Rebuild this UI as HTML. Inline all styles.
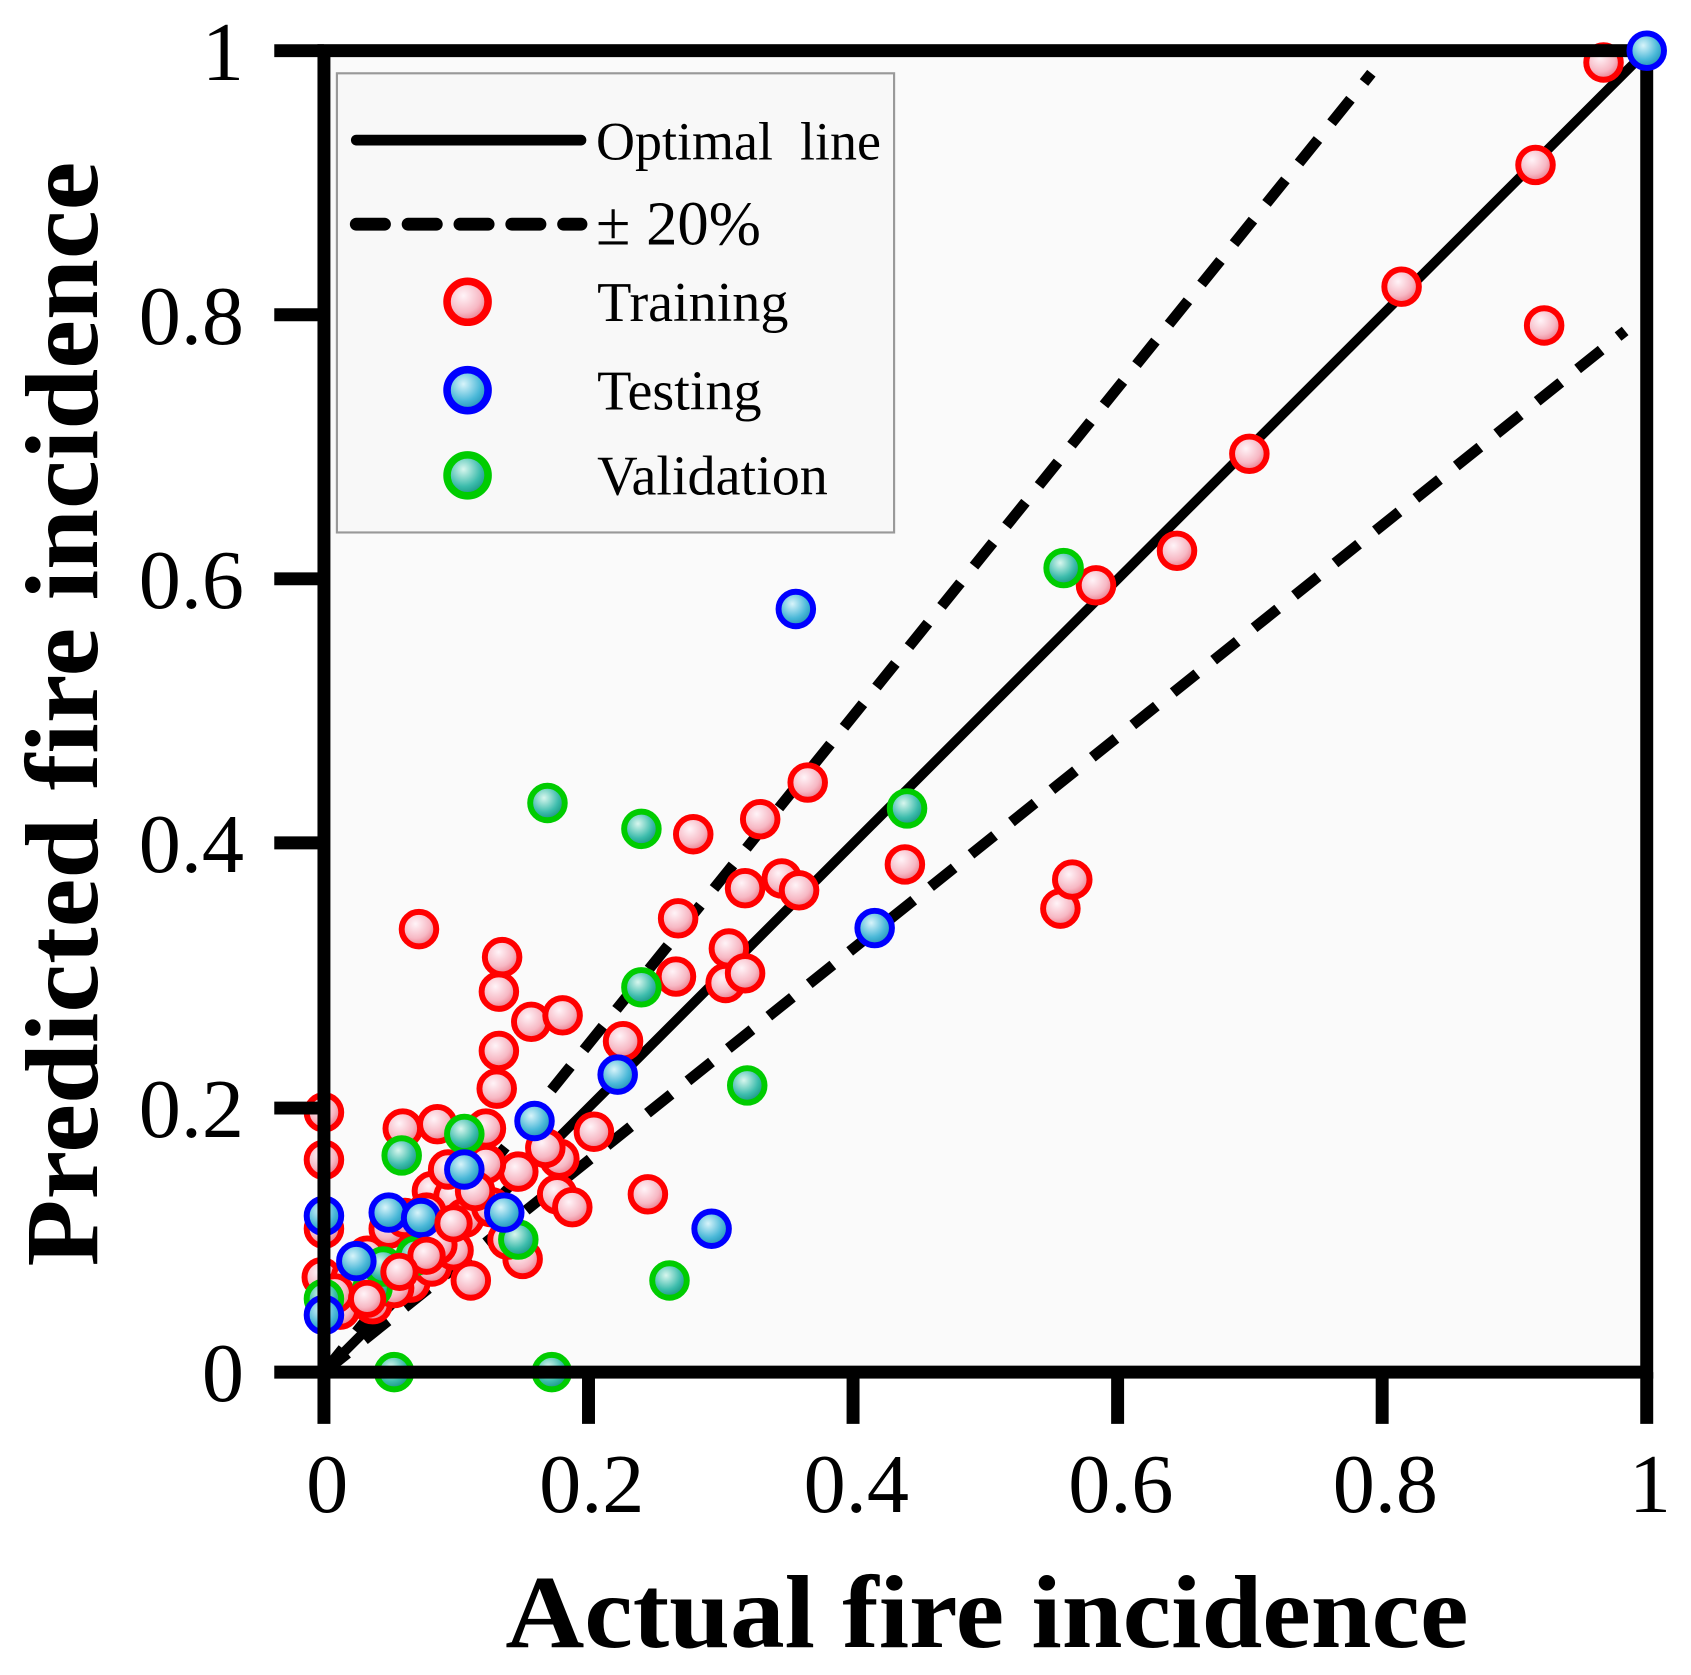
<!DOCTYPE html>
<html><head><meta charset="utf-8"><style>html,body{margin:0;padding:0;background:#fff}svg{display:block}</style></head>
<body>
<svg width="1691" height="1675" viewBox="0 0 1566 1554" preserveAspectRatio="none" xmlns="http://www.w3.org/2000/svg" font-family="'Liberation Serif',serif">
<defs>
<radialGradient id="gr" cx="0.4" cy="0.35" r="0.7"><stop offset="0" stop-color="#fff4f8"/><stop offset="0.6" stop-color="#f7b8c4"/><stop offset="1" stop-color="#e86a7a"/></radialGradient>
<radialGradient id="gb" cx="0.4" cy="0.35" r="0.7"><stop offset="0" stop-color="#d8f4fa"/><stop offset="0.6" stop-color="#4ab8d8"/><stop offset="1" stop-color="#1a8ab0"/></radialGradient>
<radialGradient id="gg" cx="0.4" cy="0.35" r="0.7"><stop offset="0" stop-color="#d8f6ee"/><stop offset="0.6" stop-color="#3cbcac"/><stop offset="1" stop-color="#118a78"/></radialGradient>
</defs>
<rect x="300" y="47" width="1225" height="1226" fill="#fafafa"/>
<line x1="300" y1="1273" x2="1525" y2="47" stroke="#000" stroke-width="9"/>
<line x1="300" y1="1273" x2="1270" y2="68" stroke="#000" stroke-width="10" stroke-dasharray="28,20"/>
<line x1="300" y1="1273" x2="1505" y2="307" stroke="#000" stroke-width="10" stroke-dasharray="28,20"/>
<g fill="url(#gr)" stroke="#f00" stroke-width="5.5">
<circle cx="1485" cy="58" r="16"/><circle cx="1422" cy="153" r="16"/><circle cx="1430" cy="302" r="16"/><circle cx="1298" cy="266" r="16"/><circle cx="1157" cy="421" r="16"/><circle cx="1090" cy="511" r="16"/><circle cx="1015" cy="543" r="16"/><circle cx="748" cy="726" r="16"/><circle cx="704" cy="760" r="16"/><circle cx="642" cy="774" r="16"/><circle cx="690" cy="824" r="16"/><circle cx="724" cy="815" r="16"/><circle cx="740" cy="826" r="16"/><circle cx="838" cy="802" r="16"/><circle cx="982" cy="843" r="16"/><circle cx="993" cy="816" r="16"/><circle cx="628" cy="852" r="16"/><circle cx="675" cy="880" r="16"/><circle cx="672" cy="912" r="16"/><circle cx="690" cy="903" r="16"/><circle cx="626" cy="906" r="16"/><circle cx="388" cy="862" r="16"/><circle cx="465" cy="888" r="16"/><circle cx="462" cy="920" r="16"/><circle cx="462" cy="975" r="16"/><circle cx="492" cy="948" r="16"/><circle cx="521" cy="942" r="16"/><circle cx="577" cy="966" r="16"/><circle cx="460" cy="1010" r="16"/><circle cx="550" cy="1050" r="16"/><circle cx="600" cy="1108" r="16"/><circle cx="300" cy="1032" r="16"/><circle cx="300" cy="1076" r="16"/><circle cx="300" cy="1140" r="16"/><circle cx="373" cy="1047" r="16"/><circle cx="405" cy="1043" r="16"/><circle cx="518" cy="1075" r="16"/><circle cx="516" cy="1108" r="16"/><circle cx="530" cy="1120" r="16"/><circle cx="480" cy="1087" r="16"/><circle cx="484" cy="1168" r="16"/><circle cx="436" cy="1188" r="16"/><circle cx="450" cy="1047" r="16"/><circle cx="298" cy="1185" r="16"/><circle cx="400" cy="1105" r="16"/><circle cx="420" cy="1110" r="16"/><circle cx="450" cy="1080" r="16"/><circle cx="470" cy="1150" r="16"/><circle cx="505" cy="1065" r="16"/>
<circle cx="330" cy="1200" r="16"/><circle cx="350" cy="1180" r="16"/><circle cx="370" cy="1160" r="16"/><circle cx="390" cy="1150" r="16"/><circle cx="410" cy="1140" r="16"/><circle cx="345" cy="1210" r="16"/><circle cx="380" cy="1190" r="16"/><circle cx="400" cy="1175" r="16"/><circle cx="430" cy="1130" r="16"/><circle cx="455" cy="1120" r="16"/><circle cx="315" cy="1215" r="16"/><circle cx="360" cy="1140" r="16"/><circle cx="395" cy="1125" r="16"/><circle cx="420" cy="1160" r="16"/>
<circle cx="325" cy="1185" r="16"/><circle cx="340" cy="1165" r="16"/><circle cx="365" cy="1195" r="16"/><circle cx="405" cy="1155" r="16"/><circle cx="440" cy="1105" r="16"/><circle cx="415" cy="1085" r="16"/><circle cx="310" cy="1200" r="16"/><circle cx="375" cy="1130" r="16"/>
</g>
<g fill="url(#gg)" stroke="#0c0" stroke-width="5.5">
<circle cx="985" cy="527" r="16"/><circle cx="840" cy="750" r="16"/><circle cx="507" cy="745" r="16"/><circle cx="594" cy="769" r="16"/><circle cx="594" cy="916" r="16"/><circle cx="692" cy="1007" r="16"/><circle cx="620" cy="1188" r="16"/><circle cx="365" cy="1273" r="16"/><circle cx="511" cy="1273" r="16"/><circle cx="372" cy="1072" r="16"/><circle cx="430" cy="1052" r="16"/><circle cx="480" cy="1150" r="16"/><circle cx="300" cy="1205" r="16"/><circle cx="345" cy="1195" r="16"/><circle cx="385" cy="1165" r="16"/><circle cx="355" cy="1175" r="16"/>
</g>
<g fill="url(#gb)" stroke="#00f" stroke-width="5.5">
<circle cx="737" cy="565" r="16"/><circle cx="810" cy="861" r="16"/><circle cx="572" cy="997" r="16"/><circle cx="659" cy="1140" r="16"/><circle cx="495" cy="1040" r="16"/><circle cx="467" cy="1125" r="16"/><circle cx="430" cy="1085" r="16"/><circle cx="300" cy="1128" r="16"/><circle cx="360" cy="1125" r="16"/><circle cx="300" cy="1220" r="16"/><circle cx="330" cy="1170" r="16"/><circle cx="390" cy="1130" r="16"/>
</g>
<g fill="url(#gr)" stroke="#f00" stroke-width="5.5">
<circle cx="340" cy="1205" r="15"/><circle cx="395" cy="1165" r="15"/><circle cx="420" cy="1135" r="15"/><circle cx="370" cy="1180" r="15"/>
</g>
<rect x="300" y="47" width="1225" height="1226" fill="none" stroke="#000" stroke-width="12"/>
<g stroke="#000" stroke-width="12">
<line x1="300" y1="1273" x2="300" y2="1321"/><line x1="545" y1="1273" x2="545" y2="1321"/><line x1="790" y1="1273" x2="790" y2="1321"/><line x1="1035" y1="1273" x2="1035" y2="1321"/><line x1="1280" y1="1273" x2="1280" y2="1321"/><line x1="1525" y1="1273" x2="1525" y2="1321"/>
<line x1="254" y1="47" x2="300" y2="47"/><line x1="254" y1="292" x2="300" y2="292"/><line x1="254" y1="537" x2="300" y2="537"/><line x1="254" y1="782" x2="300" y2="782"/><line x1="254" y1="1028" x2="300" y2="1028"/><line x1="254" y1="1273" x2="300" y2="1273"/>
</g>
<g fill="url(#gb)" stroke="#00f" stroke-width="5.5"><circle cx="1525" cy="47" r="16"/></g>
<g font-size="78" text-anchor="middle" fill="#000">
<text x="303" y="1403">0</text><text x="548" y="1403">0.2</text><text x="793" y="1403">0.4</text><text x="1038" y="1403">0.6</text><text x="1283" y="1403">0.8</text><text x="1528" y="1403">1</text>
</g>
<g font-size="78" text-anchor="end" fill="#000">
<text x="226" y="74">1</text><text x="226" y="319">0.8</text><text x="226" y="564">0.6</text><text x="226" y="809">0.4</text><text x="226" y="1055">0.2</text><text x="226" y="1300">0</text>
</g>
<text x="468" y="1528" font-size="96" font-weight="bold" textLength="892" lengthAdjust="spacingAndGlyphs">Actual fire incidence</text>
<text transform="translate(90,1175) rotate(-90)" font-size="96" font-weight="bold" textLength="1025" lengthAdjust="spacingAndGlyphs">Predicted fire incidence</text>
<rect x="312" y="68" width="516" height="426" fill="#f8f8f8" stroke="#999" stroke-width="2"/>
<line x1="330" y1="130" x2="538" y2="130" stroke="#000" stroke-width="10" stroke-linecap="round"/>
<line x1="330" y1="208" x2="538" y2="208" stroke="#000" stroke-width="12" stroke-dasharray="26,22" stroke-linecap="round"/>
<circle cx="433" cy="280" r="19" fill="url(#gr)" stroke="#f00" stroke-width="7"/>
<circle cx="433" cy="362" r="19" fill="url(#gb)" stroke="#00f" stroke-width="7"/>
<circle cx="433" cy="441" r="19" fill="url(#gg)" stroke="#0c0" stroke-width="7"/>
<g font-size="52" fill="#000">
<text x="552" y="148" font-size="50">Optimal&#160; line</text>
<text x="552" y="227" font-size="58">± 20%</text>
<text x="553" y="298">Training</text>
<text x="553" y="380">Testing</text>
<text x="553" y="459">Validation</text>
</g>
</svg>
</body></html>
